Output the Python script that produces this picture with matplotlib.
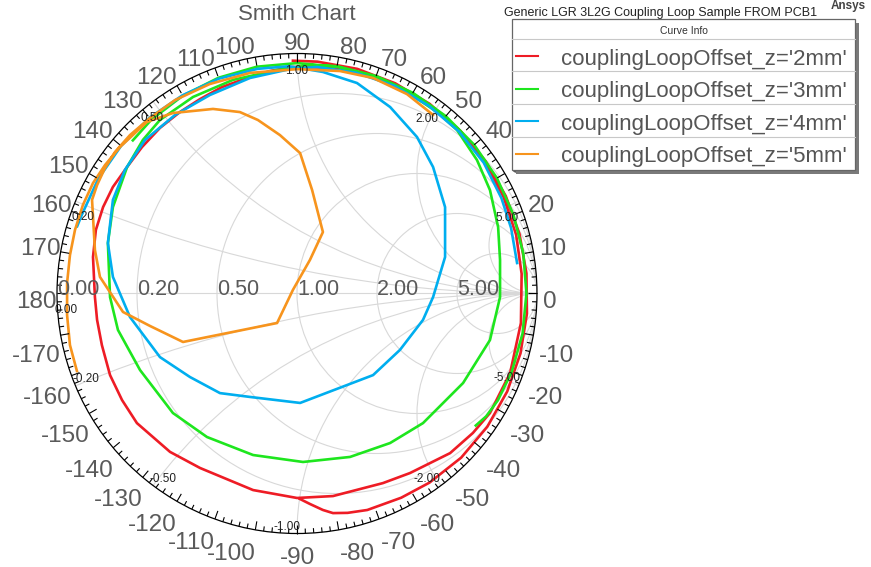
import numpy as np
import matplotlib.pyplot as plt
from matplotlib.patches import Circle, Rectangle
from matplotlib.collections import LineCollection
from matplotlib.lines import Line2D

plt.rcParams['font.family'] = ['Liberation Sans', 'DejaVu Sans']

W, H = 871, 567
CX, CY, R = 297, 293.5, 240   # chart centre / radius in pixels

title = "Smith Chart"
plot_name = "Generic LGR 3L2G Coupling Loop Sample FROM PCB1"
series_names = ["couplingLoopOffset_z='2mm'", "couplingLoopOffset_z='3mm'",
                "couplingLoopOffset_z='4mm'", "couplingLoopOffset_z='5mm'"]
series_colors = ['#ee1c25', '#1ee61e', '#00aeef', '#f7941d']

r_values = [0.2, 0.5, 1.0, 2.0, 5.0]
x_values = [0.2, 0.5, 1.0, 2.0, 5.0]

red_re = [-0.017, 0.085, 0.251, 0.409, 0.553, 0.679, 0.782, 0.861, 0.913, 0.936,
          0.933, 0.888, 0.804, 0.733, 0.638, 0.471, 0.358, 0.150, 0.000, -0.183,
          -0.404, -0.529, -0.667, -0.729, -0.779, -0.813, -0.833, -0.842, -0.850, -0.838,
          -0.808, -0.767, -0.708, -0.646, -0.571, -0.488, -0.404, -0.313, -0.208, -0.113,
          -0.017, 0.132, 0.247, 0.405, 0.551, 0.679, 0.786, 0.870, 0.927, 0.956,
          0.958, 0.931, 0.876, 0.793, 0.684, 0.552, 0.434, 0.293, 0.211, 0.150,
          0.108, 0.054, 0.012]
red_im = [0.970, 0.966, 0.936, 0.876, 0.790, 0.679, 0.548, 0.401, 0.245, 0.082,
          -0.123, -0.331, -0.498, -0.581, -0.665, -0.748, -0.790, -0.844, -0.852, -0.819,
          -0.727, -0.660, -0.540, -0.444, -0.340, -0.215, -0.110, -0.015, 0.152, 0.265,
          0.360, 0.444, 0.527, 0.610, 0.690, 0.756, 0.810, 0.860, 0.898, 0.927,
          0.944, 0.941, 0.922, 0.868, 0.786, 0.679, 0.551, 0.406, 0.248, 0.084,
          -0.084, -0.250, -0.408, -0.555, -0.684, -0.788, -0.851, -0.902, -0.914, -0.915,
          -0.902, -0.877, -0.856]

green_re = [-0.684, -0.607, -0.476, -0.327, -0.167, 0.000, 0.167, 0.328, 0.478,
            0.588, 0.667, 0.750, 0.804, 0.838, 0.846, 0.846, 0.804, 0.692, 0.525,
            0.388, 0.221, 0.025, -0.183, -0.375, -0.517, -0.654, -0.746, -0.779, -0.788,
            -0.767, -0.708, -0.642, -0.571, -0.433, -0.267, -0.083, 0.054,
            0.167, 0.330, 0.483, 0.620, 0.738, 0.833, 0.902, 0.943, 0.956, 0.940,
            0.895, 0.837, 0.788, 0.745]
green_im = [0.638, 0.724, 0.824, 0.899, 0.945, 0.960, 0.945, 0.900, 0.827,
            0.753, 0.681, 0.556, 0.431, 0.277, 0.140, -0.015, -0.194, -0.373, -0.540,
            -0.623, -0.681, -0.702, -0.673, -0.598, -0.498, -0.319, -0.152, -0.015, 0.210,
            0.360, 0.527, 0.640, 0.723, 0.819, 0.890, 0.931, 0.952,
            0.947, 0.906, 0.836, 0.739, 0.620, 0.481, 0.328, 0.166, 0.000, -0.166,
            -0.326, -0.445, -0.512, -0.550]

blue_re = [-0.916, -0.897, -0.828, -0.733, -0.615, -0.477, -0.326, -0.165, -0.033,
           0.108, 0.250, 0.388, 0.500, 0.567, 0.617, 0.617, 0.567, 0.525, 0.429,
           0.317, 0.013, -0.196, -0.321, -0.446, -0.571, -0.696, -0.767, -0.788, -0.767,
           -0.717, -0.633, -0.508, -0.363, -0.196, -0.029,
           0.083, 0.246, 0.404, 0.548, 0.675, 0.778, 0.852, 0.892, 0.917]
blue_im = [0.280, 0.327, 0.478, 0.615, 0.732, 0.826, 0.895, 0.936, 0.947,
           0.923, 0.877, 0.777, 0.652, 0.527, 0.360, 0.152, -0.015, -0.110, -0.235,
           -0.340, -0.456, -0.431, -0.415, -0.348, -0.265, -0.098, 0.069, 0.210, 0.390,
           0.515, 0.640, 0.744, 0.827, 0.898, 0.935,
           0.944, 0.920, 0.866, 0.783, 0.675, 0.545, 0.397, 0.273, 0.127]

orange_re = [-0.917, -0.946, -0.958, -0.958, -0.946, -0.925, -0.892, -0.850, -0.800, -0.738,
             -0.625, -0.517, -0.350, -0.238, -0.163, -0.071, 0.013, 0.063, 0.108, 0.054,
             -0.017, -0.083, -0.475, -0.613, -0.725, -0.821, -0.842, -0.854, -0.833, -0.800,
             -0.758, -0.696, -0.613,
             -0.508, -0.363, -0.196, 0.000, 0.179, 0.317, 0.458, 0.567]
orange_im = [-0.323, -0.215, -0.090, 0.044, 0.160, 0.265, 0.369, 0.460, 0.535, 0.610,
             0.715, 0.752, 0.769, 0.756, 0.723, 0.660, 0.585, 0.431, 0.256, 0.140,
             0.015, -0.123, -0.202, -0.135, -0.077, 0.069, 0.181, 0.390, 0.452, 0.523,
             0.590, 0.660, 0.731,
             0.806, 0.873, 0.919, 0.935, 0.927, 0.898, 0.831, 0.744]

# small reactance labels along the rim
x_label_text = ["1.00", "0.50", "2.00", "0.20", "5.00", "0.00",
                "-0.20", "-0.50", "-1.00", "-2.00", "-5.00"]
x_label_pos = [(0.0, 0.927), (-0.604, 0.731), (0.542, 0.729), (-0.892, 0.319),
               (0.875, 0.315), (-0.963, -0.068), (-0.879, -0.356), (-0.558, -0.773),
               (-0.042, -0.973), (0.542, -0.773), (0.875, -0.352)]


def fig_xy(x, y):
    return x / W, 1 - y / H


fig = plt.figure(figsize=(W / 100, H / 100), dpi=100)
ax = fig.add_axes([0, 0, 1, 1])
ax.set_xlim(-CX / R, (W - CX) / R)
ax.set_ylim(-(H - CY) / R, CY / R)
ax.axis('off')

rim = Circle((0, 0), 1, fill=False, ec='black', lw=0.9, zorder=4)
ax.add_patch(rim)

grid_kw = dict(fill=False, ec='#d8d8d8', lw=0.8, zorder=1)
for r in r_values:
    c = Circle((r / (1 + r), 0), 1 / (1 + r), **grid_kw)
    ax.add_patch(c)
    c.set_clip_path(rim)
for xv in x_values:
    for s in (1, -1):
        c = Circle((1, s / xv), 1 / xv, **grid_kw)
        ax.add_patch(c)
        c.set_clip_path(rim)
ax.plot([-1, 1], [0, 0], color='#d8d8d8', lw=0.8, zorder=1)

# tick ring
segs = []
for a in range(0, 360, 2):
    t = np.radians(a)
    L = 0.036 if a % 10 == 0 else 0.02
    segs.append([(np.cos(t), np.sin(t)), ((1 - L) * np.cos(t), (1 - L) * np.sin(t))])
ax.add_collection(LineCollection(segs, colors='black', linewidths=0.8, zorder=4))

# angle labels, set beside an anchor on an oval round the chart
for a in range(-170, 181, 10):
    t = np.radians(a)
    c, s = round(np.cos(t), 6), round(np.sin(t), 6)
    px = CX + (246 if c > 0 else 240) * c
    py = 300 - (258 if s > 0 else 255) * s - np.sign(s) * 9.5 * abs(c) ** 3
    ha = 'left' if c > 0.02 else ('right' if c < -0.02 else 'center')
    ax.text((px - CX) / R, (CY - py) / R, str(a), ha=ha, va='center_baseline',
            fontsize=17.5, color='#5a5a5a', zorder=5)

# resistance labels on the real axis
for r in [0.0] + r_values:
    ax.text((r - 1) / (r + 1), -0.008, f"{r:.2f}", ha='left', va='baseline',
            fontsize=15.5, color='#5a5a5a', zorder=5)

for s, (xx, yy) in zip(x_label_text, x_label_pos):
    ax.text(xx, yy, s, ha='center', va='center', fontsize=8.5, color='#222222', zorder=5)

curves = [(red_re, red_im), (green_re, green_im), (blue_re, blue_im), (orange_re, orange_im)]
for (re, im), col in zip(curves, series_colors):
    ax.plot(re, im, color=col, lw=1.9, zorder=3)

fig.text(*fig_xy(CX, 14), title, ha='center', va='center', fontsize=16, color='#5a5a5a')
fig.text(*fig_xy(661, 13), plot_name, ha='center', va='center', fontsize=9, color='#222222')
fig.text(*fig_xy(848, 6), "Ansys", ha='center', va='center', fontsize=8.5,
         fontweight='bold', color='#444444')

# legend box
bx0, by0, bx1, by1 = 512, 19, 855, 170
sx, sy = fig_xy(bx0 + 4, by1 + 4)
fig.add_artist(Rectangle((sx, sy), (bx1 - bx0) / W, (by1 - by0) / H,
                         transform=fig.transFigure, fc='#7a7a7a', ec='none', zorder=6))
lx, ly = fig_xy(bx0, by1)
fig.add_artist(Rectangle((lx, ly), (bx1 - bx0) / W, (by1 - by0) / H,
                         transform=fig.transFigure, fc='white', ec='#666666', lw=0.9, zorder=7))
for yy in [39, 71, 104, 137]:
    x0, y0 = fig_xy(bx0, yy)
    x1, _ = fig_xy(bx1, yy)
    fig.add_artist(Line2D([x0, x1], [y0, y0], transform=fig.transFigure,
                          color='#c8c8c8', lw=0.8, zorder=8))
fig.text(*fig_xy(684, 30.5), "Curve Info", ha='center', va='center', fontsize=7.5,
         color='#333333', zorder=9)
for i, (name, col) in enumerate(zip(series_names, series_colors)):
    yl = 56 + i * 32.5
    x0, y0 = fig_xy(516, yl)
    x1, _ = fig_xy(538, yl)
    fig.add_artist(Line2D([x0, x1], [y0, y0], transform=fig.transFigure,
                          color=col, lw=1.5, zorder=9))
    fig.text(*fig_xy(561, yl + 3.5), name, ha='left', va='center', fontsize=16,
             color='#555555', zorder=9)

fig.savefig('out.png', dpi=100)
